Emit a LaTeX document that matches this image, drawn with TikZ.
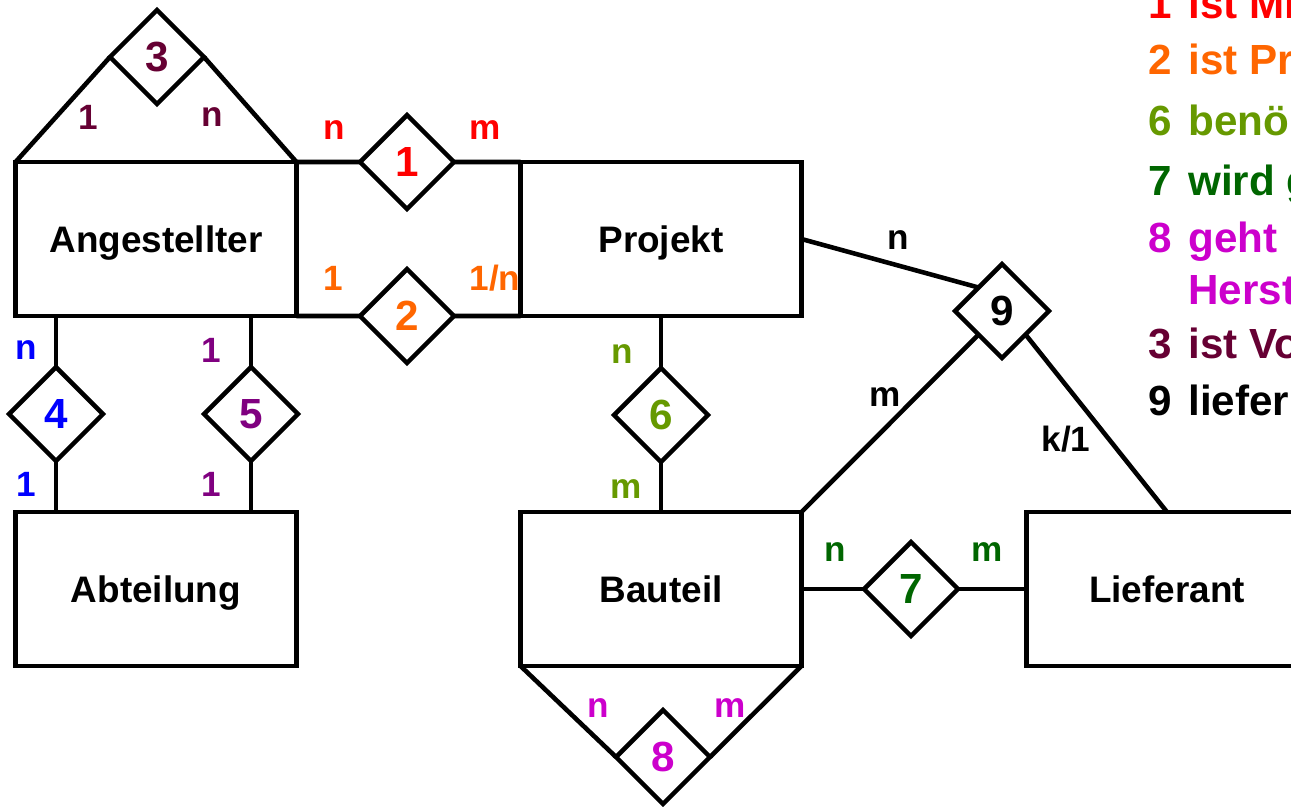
\documentclass[tikz,border=0pt]{standalone}
\usepackage{fontspec}
\setmainfont{Liberation Sans}
\usetikzlibrary{positioning, calc, shapes.geometric}
\definecolor{relRed}{RGB}{255,0,0}
\definecolor{relOrange}{RGB}{255,102,0}
\definecolor{relBlue}{RGB}{0,0,255}
\definecolor{relPurple}{RGB}{128,0,128}
\definecolor{relOlive}{RGB}{102,153,0}
\definecolor{relGreen}{RGB}{0,102,0}
\definecolor{relMagenta}{RGB}{204,0,204}
\definecolor{relMaroon}{RGB}{102,0,51}
\newcommand{\legendrow}[5]{
    \node[legend, text=#2] (#1num) at (1148,#3) {#4};
    \node[legend, text=#2] (#1txt) at (1188,#3) {#5};
}
\tikzset{
    entity/.style={
        draw, line width=2.6pt, minimum width=5.62cm, minimum height=3.08cm,
        inner sep=0pt, outer sep=0pt, text height=15pt, text depth=0pt,
        font=\fontsize{21}{25}\selectfont\bfseries
    },
    relation/.style={
        diamond, aspect=1, draw, fill=white, line width=2.6pt,
        minimum size=1.88cm, inner sep=0pt, outer sep=0pt,
        font=\fontsize{24}{28}\selectfont\bfseries
    },
    card/.style={
        inner sep=0pt, font=\fontsize{20}{24}\selectfont\bfseries
    },
    link/.style={
        line width=2.6pt
    },
    legend/.style={
        anchor=base west, inner sep=0pt, font=\fontsize{24}{28}\selectfont\bfseries
    }
}
\begin{document}
\begin{tikzpicture}[x=0.02cm, y=-0.02cm]
    \useasboundingbox (0,0) rectangle (1291,806);

    % --- ENTITIES ---
    \node[entity] (angestellter) at (156,239) {Angestellter};
    \node[entity] (projekt) at (661,239) {Projekt};
    \node[entity] (abteilung) at (156,589) {Abteilung};
    \node[entity] (bauteil) at (661,589) {Bauteil};
    \node[entity] (lieferant) at (1167,589) {Lieferant};

    % --- RELATIONS ---
    \node[relation, text=relRed] (r1) at (407,162) {1};
    \node[relation, text=relOrange] (r2) at (407,316) {2};
    \node[relation, text=relMaroon] (r3) at (157,57) {3};
    \node[relation, text=relBlue] (r4) at (56,414) {4};
    \node[relation, text=relPurple] (r5) at (251,414) {5};
    \node[relation, text=relOlive] (r6) at (661,415) {6};
    \node[relation, text=relGreen] (r7) at (911,589) {7};
    \node[relation, text=relMagenta] (r8) at (663,757) {8};
    \node[relation] (r9) at (1002,311) {9};

    % --- LINKS ---
    \draw[link] (angestellter.north west) -- (r3.west);
    \draw[link] (r3.east) -- (angestellter.north east);
    \draw[link] (angestellter.north east) -- (r1.west);
    \draw[link] (r1.east) -- (projekt.north west);
    \draw[link] (angestellter.south east) -- (r2.west);
    \draw[link] (r2.east) -- (projekt.south west);
    \draw[link] (r4.north) -- (r4.north |- angestellter.south);
    \draw[link] (r4.south) -- (r4.south |- abteilung.north);
    \draw[link] (r5.north) -- (r5.north |- angestellter.south);
    \draw[link] (r5.south) -- (r5.south |- abteilung.north);
    \draw[link] (projekt.south) -- (r6.north);
    \draw[link] (r6.south) -- (bauteil.north);
    \draw[link] (bauteil.east) -- (r7.west);
    \draw[link] (r7.east) -- (lieferant.west);
    \draw[link] (bauteil.south west) -- (r8.west);
    \draw[link] (r8.east) -- (bauteil.south east);
    \draw[link] (projekt.east) -- (r9.north west);
    \draw[link] (bauteil.north east) -- (r9.south west);
    \draw[link] (r9.south east) -- (lieferant.north);

    % --- CARDINALITIES ---
    \node[card, text=relMaroon] (c3a) at (88,117) {1};
    \node[card, text=relMaroon] (c3b) at (212,117) {n};
    \node[card, text=relRed] (c1a) at (334,130) {n};
    \node[card, text=relRed] (c1b) at (485,130) {m};
    \node[card, text=relOrange] (c2a) at (333,278) {1};
    \node[card, text=relOrange] (c2b) at (495,278) {1/n};
    \node[card, text=relBlue] (c4a) at (26,350) {n};
    \node[card, text=relBlue] (c4b) at (26,484) {1};
    \node[card, text=relPurple] (c5a) at (211,350) {1};
    \node[card, text=relPurple] (c5b) at (211,484) {1};
    \node[card, text=relOlive] (c6a) at (622,354) {n};
    \node[card, text=relOlive] (c6b) at (626,489) {m};
    \node[card, text=relGreen] (c7a) at (835,552) {n};
    \node[card, text=relGreen] (c7b) at (987,552) {m};
    \node[card, text=relMagenta] (c8a) at (598,708) {n};
    \node[card, text=relMagenta] (c8b) at (730,708) {m};
    \node[card] (c9a) at (898,240) {n};
    \node[card] (c9b) at (885,397) {m};
    \node[card] (c9c) at (1066,439) {k/1};

    % --- LEGEND (cut at the right edge) ---
    \legendrow{l1}{relRed}{18}{1}{ist Mi}
    \legendrow{l2}{relOrange}{74}{2}{ist Pr}
    \legendrow{l6}{relOlive}{135}{6}{benö}
    \legendrow{l7}{relGreen}{195}{7}{wird g}
    \legendrow{l8}{relMagenta}{252}{8}{geht}
    \node[legend, text=relMagenta] (l8b) at (1188,304) {Herst};
    \legendrow{l3}{relMaroon}{358}{3}{ist Vo}
    \legendrow{l9}{black}{415}{9}{liefer}
\end{tikzpicture}
\end{document}
